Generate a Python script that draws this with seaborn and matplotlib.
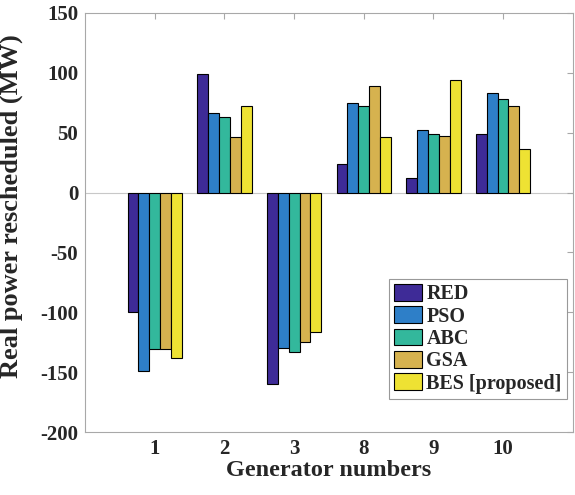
import pandas as pd
import matplotlib
matplotlib.use("Agg")
import matplotlib.pyplot as plt
import seaborn as sns

# ==========================================
# Data
# ==========================================

generators = ["1", "2", "3", "8", "9", "10"]
methods = ["RED", "PSO", "ABC", "GSA", "BES [proposed]"]

red = [-100, 99, -160, 24, 12, 49]
pso = [-149, 66, -130, 75, 52, 83]
abc = [-131, 63, -133, 72, 49, 78]
gsa = [-131, 46, -125, 89, 47, 72]
bes = [-138, 72, -116, 46, 94, 36]

colors = ["#3E2B97", "#2E7FC8", "#33B89C", "#D6B24F", "#EEE233"]

# long-form table for seaborn
rows = []
for name, vals in zip(methods, [red, pso, abc, gsa, bes]):
    for g, v in zip(generators, vals):
        rows.append({"Generator": g, "Method": name, "MW": v})
df = pd.DataFrame(rows)

# ==========================================
# Plot
# ==========================================

sns.set_style("white")
plt.rcParams["font.family"] = ["Liberation Serif", "DejaVu Serif"]
plt.rcParams["font.weight"] = "bold"
plt.rcParams["axes.unicode_minus"] = False

fig = plt.figure(figsize=(5.75, 4.95), dpi=100)
ax = fig.add_axes([0.148, 0.127, 0.848, 0.847])

sns.barplot(data=df, x="Generator", y="MW", hue="Method", order=generators,
            hue_order=methods, palette=colors, saturation=1, width=0.78, gap=0,
            edgecolor="black", linewidth=0.8, errorbar=None, ax=ax)

ax.set_xlim(-1, 6)
ax.set_ylim(-200, 150)
ax.set_yticks(range(-200, 151, 50))
ax.set_xlabel("Generator numbers", fontsize=17.5, fontweight="bold", labelpad=1)
ax.set_ylabel("Real power rescheduled (MW)", fontsize=19, fontweight="bold")
ax.yaxis.set_label_coords(-0.127, 0.54)

ax.axhline(0, color="#c8c8c8", linewidth=0.8, zorder=0)

for sp in ax.spines.values():
    sp.set_color("#a8a8a8")
    sp.set_linewidth(0.8)
ax.tick_params(direction="in", length=4, color="#a8a8a8", top=True, right=True,
               labelsize=15, pad=5)
for lbl in ax.get_xticklabels() + ax.get_yticklabels():
    lbl.set_fontweight("bold")

leg = ax.legend(loc="lower right", bbox_to_anchor=(0.988, 0.08), fontsize=14.5,
                frameon=True, fancybox=False, edgecolor="#808080",
                handlelength=1.4, handleheight=0.9, handletextpad=0.2,
                labelspacing=0.1, borderpad=0.25, borderaxespad=0)
leg.get_frame().set_linewidth(0.8)
for t in leg.get_texts():
    t.set_fontweight("bold")

fig.savefig("out.png", dpi=100)
plt.close(fig)
